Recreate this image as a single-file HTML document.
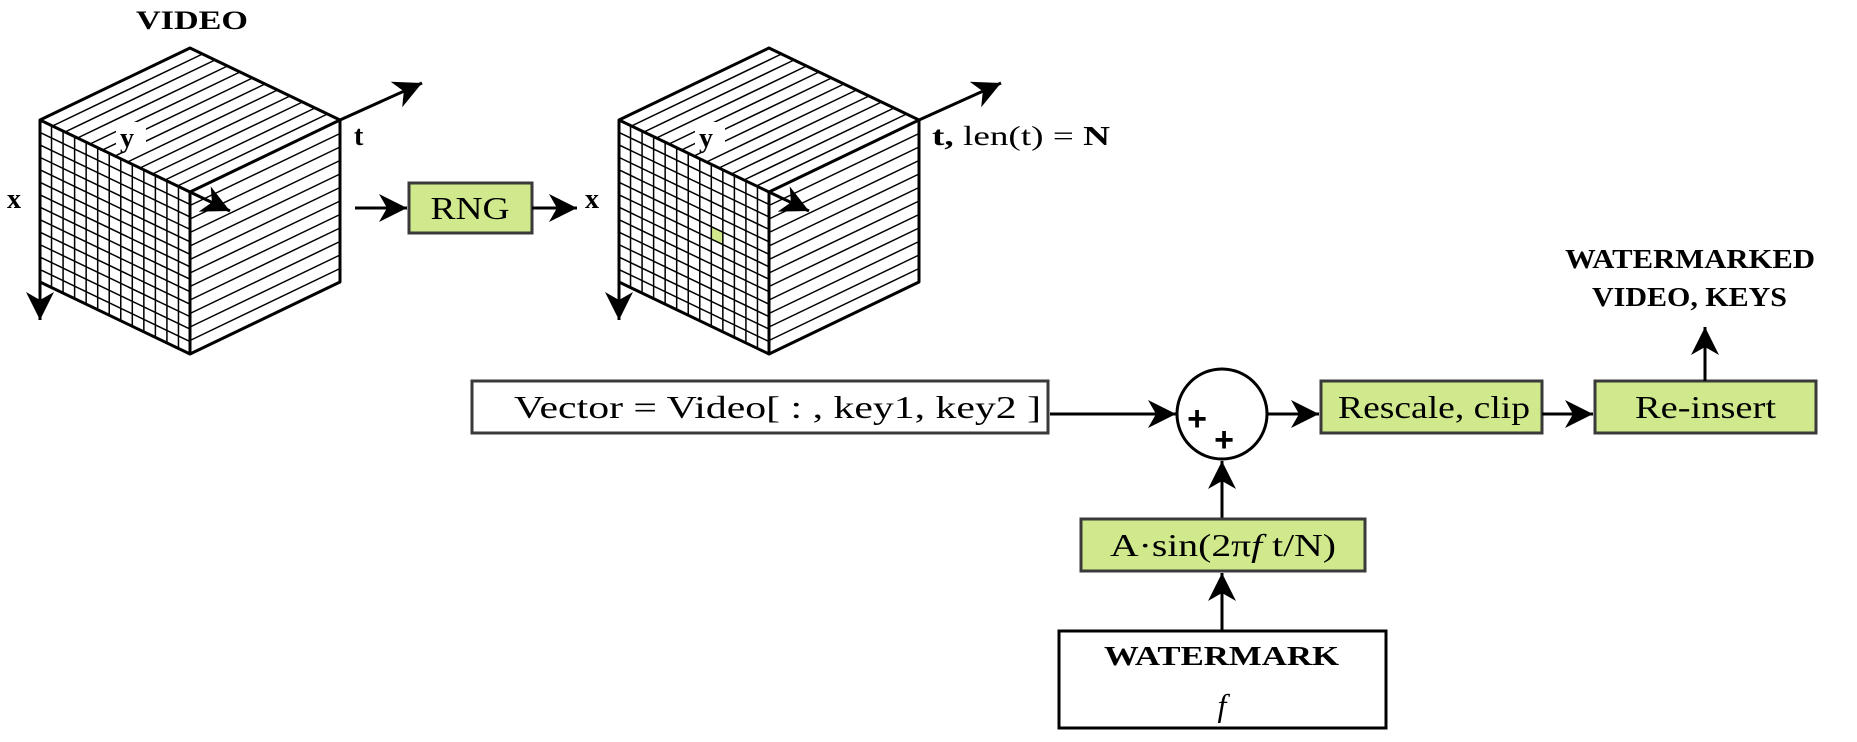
<!DOCTYPE html>
<html><head><meta charset="utf-8"><style>
html,body{margin:0;padding:0;background:#fff;width:1857px;height:742px;overflow:hidden}
svg text{font-family:"Liberation Serif",serif;fill:#000}
.b{font-weight:bold}
</style></head><body>
<svg id="d" width="1857" height="742" viewBox="0 0 1857 742" xmlns="http://www.w3.org/2000/svg">
<defs>
<marker id="ah" markerUnits="userSpaceOnUse" markerWidth="32" markerHeight="30" refX="28" refY="15" orient="auto">
<path d="M0,1 L28,15 L0,29 L8,15 Z" fill="#000"/>
</marker>
</defs>
<g id="cubes"></g>

<text x="192" y="29" font-size="26" class="b" text-anchor="middle" textLength="112" lengthAdjust="spacingAndGlyphs">VIDEO</text>
<text x="7" y="208" font-size="28" class="b">x</text>
<text x="354" y="145" font-size="28" class="b">t</text>
<text x="585" y="208" font-size="28" class="b">x</text>
<text x="932" y="145" font-size="27" textLength="178" lengthAdjust="spacingAndGlyphs"><tspan font-weight="bold">t,</tspan> len(t) = <tspan font-weight="bold">N</tspan></text>

<line x1="355" y1="208" x2="407" y2="208" stroke="#000" stroke-width="3" marker-end="url(#ah)"/>
<rect x="409" y="183" width="123" height="50" fill="#cfe98c" stroke="#3a3a3a" stroke-width="3"/>
<text x="470" y="219" font-size="32" text-anchor="middle" textLength="79" lengthAdjust="spacingAndGlyphs">RNG</text>
<line x1="532" y1="208" x2="577" y2="208" stroke="#000" stroke-width="3" marker-end="url(#ah)"/>

<rect x="472" y="381" width="576" height="52" fill="#fff" stroke="#3a3a3a" stroke-width="3"/>
<text x="514" y="418" font-size="32" textLength="527" lengthAdjust="spacingAndGlyphs">Vector = Video[ : , key1, key2 ]</text>
<line x1="1050" y1="414" x2="1176" y2="414" stroke="#000" stroke-width="3" marker-end="url(#ah)"/>

<circle cx="1222" cy="414" r="45" fill="#fff" stroke="#000" stroke-width="3"/>
<text x="1197" y="430" font-size="34" font-weight="bold" text-anchor="middle" style="font-family:'Liberation Sans',sans-serif">+</text>
<text x="1224" y="451" font-size="34" font-weight="bold" text-anchor="middle" style="font-family:'Liberation Sans',sans-serif">+</text>

<line x1="1268" y1="414" x2="1319" y2="414" stroke="#000" stroke-width="3" marker-end="url(#ah)"/>
<rect x="1321" y="381" width="221" height="52" fill="#cfe98c" stroke="#3a3a3a" stroke-width="3"/>
<text x="1338" y="418" font-size="32" textLength="192" lengthAdjust="spacingAndGlyphs">Rescale, clip</text>
<line x1="1542" y1="414" x2="1593" y2="414" stroke="#000" stroke-width="3" marker-end="url(#ah)"/>
<rect x="1595" y="381" width="221" height="52" fill="#cfe98c" stroke="#3a3a3a" stroke-width="3"/>
<text x="1635" y="418" font-size="32" textLength="141" lengthAdjust="spacingAndGlyphs">Re-insert</text>
<line x1="1705" y1="381" x2="1705" y2="327" stroke="#000" stroke-width="3" marker-end="url(#ah)"/>
<text x="1565" y="268" font-size="27" class="b" textLength="250" lengthAdjust="spacingAndGlyphs">WATERMARKED</text>
<text x="1592" y="306" font-size="27" class="b" textLength="195" lengthAdjust="spacingAndGlyphs">VIDEO, KEYS</text>

<line x1="1222" y1="518" x2="1222" y2="461" stroke="#000" stroke-width="3" marker-end="url(#ah)"/>
<rect x="1081" y="519" width="284" height="52" fill="#cfe98c" stroke="#3a3a3a" stroke-width="3"/>
<text x="1110" y="556" font-size="32" textLength="226" lengthAdjust="spacingAndGlyphs">A·sin(2π<tspan font-style="italic">f</tspan> t/N)</text>
<line x1="1222" y1="631" x2="1222" y2="573" stroke="#000" stroke-width="3" marker-end="url(#ah)"/>
<rect x="1059" y="631" width="327" height="97" fill="#fff" stroke="#000" stroke-width="3"/>
<text x="1104" y="665" font-size="27" class="b" textLength="235" lengthAdjust="spacingAndGlyphs">WATERMARK</text>
<text x="1222" y="716" font-size="32" font-style="italic" text-anchor="middle">f</text>
</svg>
<script>
const NS="http://www.w3.org/2000/svg";
const g=document.getElementById('cubes');
function ln(par,x1,y1,x2,y2,w){const l=document.createElementNS(NS,'line');
l.setAttribute('x1',x1);l.setAttribute('y1',y1);l.setAttribute('x2',x2);l.setAttribute('y2',y2);
l.setAttribute('stroke','#000');l.setAttribute('stroke-width',w);par.appendChild(l);return l;}
function cube(dx,idx,green){
 const c=document.createElementNS(NS,'g');
 
 
 g.appendChild(c);
 const L=[40+dx,120],T=[190+dx,48],R=[340+dx,120],F=[190+dx,192],H=162,W=150,S=72/150;
 const N=13;
 if(green){const col=8,row=5,cw=W/N,rh=H/N;
  const x0=L[0]+col*cw,x1=x0+cw;const y0=L[1]+(x0-L[0])*S+row*rh,y1=L[1]+(x1-L[0])*S+row*rh;
  const p=document.createElementNS(NS,'polygon');
  p.setAttribute('points',`${x0},${y0} ${x1},${y1} ${x1},${y1+rh} ${x0},${y0+rh}`);
  p.setAttribute('fill','#cfe98c');
  
  
  c.appendChild(p);}
 for(let i=1;i<N;i++){const x=L[0]+i*W/N;ln(c,x,L[1]+(x-L[0])*S,x,L[1]+(x-L[0])*S+H,1.5);}
 for(let j=1;j<N;j++){const y=j*H/N;ln(c,L[0],L[1]+y,F[0],F[1]+y,1.5);}
 for(let k=1;k<12;k++){const y=k*H/12;ln(c,F[0],F[1]+y,R[0],R[1]+y,1.5);}
 for(let k=1;k<12;k++){const s=k/12;const px=L[0]+s*150,py=L[1]+s*72;ln(c,px,py,px+150,py-72,1.5);}
 const o=document.createElementNS(NS,'path');
 o.setAttribute('d',`M${L[0]},${L[1]} L${T[0]},${T[1]} L${R[0]},${R[1]} L${F[0]},${F[1]} Z M${F[0]},${F[1]} L${F[0]},${F[1]+H} M${L[0]},${L[1]} L${L[0]},${L[1]+H} L${F[0]},${F[1]+H} L${R[0]},${R[1]+H} L${R[0]},${R[1]}`);
 o.setAttribute('fill','none');o.setAttribute('stroke','#000');o.setAttribute('stroke-width','3');
 o.setAttribute('stroke-linejoin','round');c.appendChild(o);
 const bg=document.createElementNS(NS,'rect');
 bg.setAttribute('x',dx+116);bg.setAttribute('y',122);bg.setAttribute('width',30);bg.setAttribute('height',30);bg.setAttribute('fill','#fff');c.appendChild(bg);
 const t=document.createElementNS(NS,'text');
 t.setAttribute('x',dx+120);t.setAttribute('y',147);t.setAttribute('font-size','28');t.setAttribute('font-weight','bold');t.textContent='y';
 
 
 c.appendChild(t);
 const a1=ln(c,F[0],F[1],F[0]+40,F[1]+19,3);a1.setAttribute('marker-end','url(#ah)');
 
 
 const a2=ln(c,L[0],L[1]+H,L[0],L[1]+H+38,3);a2.setAttribute('marker-end','url(#ah)');
 
 
 const a3=ln(c,R[0],R[1],R[0]+82,R[1]-37,3);a3.setAttribute('marker-end','url(#ah)');
 
 
}
cube(0,1,false);
cube(579,2,true);
</script>
</body></html>
